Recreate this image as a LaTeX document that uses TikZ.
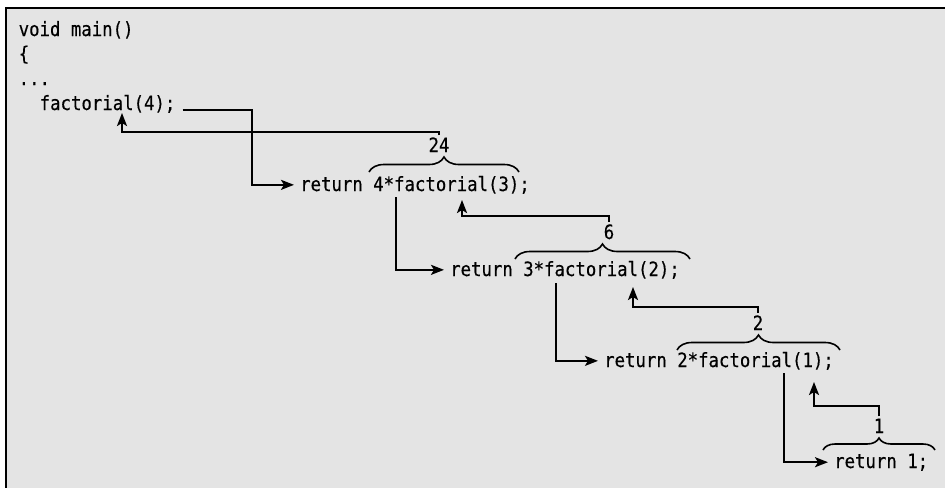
\documentclass[tikz,border=0pt]{standalone}
\usepackage{fontspec}
\usepackage{tikz}
\usetikzlibrary{arrows.meta,decorations.pathreplacing}
\newfontfamily\codefont{DejaVu Sans Mono}[FakeStretch=0.88,FakeBold=0.3]
\definecolor{panel}{HTML}{E4E4E4}

\begin{document}
\begin{tikzpicture}[x=1pt,y=-1pt,
    code/.style={anchor=base west,inner sep=0pt,font=\codefont\fontsize{19.7}{24}\selectfont},
    val/.style={anchor=base,inner sep=0pt,font=\codefont\fontsize{19.7}{24}\selectfont},
    link/.style={line width=2.2pt,-{Stealth[length=13pt,width=10pt,inset=3pt]}},
    brc/.style={decorate,decoration={brace,amplitude=#1},line width=1.6pt}]
        \useasboundingbox (0,0) rectangle (945,488);
        % 背景与边框
        \fill[white] (0,0) rectangle (945,488);
        \fill[panel] (5,7) rectangle (945,488);
        \draw[line width=2pt] (945,7.5) -- (5.5,7.5) -- (5.5,488);
        % main 函数
        \node[code] (main) at (18.5,36) {void main()};
        \node[code] (lb) at (18.5,60.5) {\{};
        \node[code] (dots) at (18.5,85) {...};
        \node[code] (f4) at (39.5,110) {factorial(4);};
        % 递归调用
        \node[code] (r1) at (300,191) {return 4*factorial(3);};
        \node[code] (r2) at (450,276) {return 3*factorial(2);};
        \node[code] (r3) at (604,367) {return 2*factorial(1);};
        \node[code] (r4) at (834,468) {return 1;};
        % 返回值
        \node[val] (v24) at (439,152) {24};
        \node[val] (v6) at (609,239) {6};
        \node[val] (v2) at (758,330) {2};
        \node[val] (v1) at (879,433) {1};
        % 花括号
        \draw[brc=15pt] (369,172) -- (519,172);
        \draw[brc=15pt] (515,259) -- (690,259);
        \draw[brc=15pt] (677,350) -- (840,350);
        \draw[brc=12pt] (823,450) -- (935,450);
        % 调用箭头
        \draw[link] ([xshift=7pt]f4.base east) -| ([xshift=-48pt]r1.west) -- ([xshift=-6pt]r1.west);
        \draw[link] ([shift={(96,6)}]r1.base west) |- ([xshift=-6pt]r2.west);
        \draw[link] ([shift={(106,7)}]r2.base west) |- ([xshift=-6pt]r3.west);
        \draw[link] ([shift={(180,6)}]r3.base west) |- ([xshift=-6pt]r4.west);
        % 返回箭头
        \coordinate (t0) at (122,113); \coordinate (b0) at (122,132);
        \coordinate (t1) at (462,200); \coordinate (b1) at (462,216);
        \coordinate (t2) at (633,287); \coordinate (b2) at (633,307);
        \coordinate (t3) at (814,382); \coordinate (b3) at (814,406);
        \draw[link] ([yshift=2pt]v24.north) |- (b0) -- (t0);
        \draw[link] ([yshift=2pt]v6.north) |- (b1) -- (t1);
        \draw[link] ([yshift=2pt]v2.north) |- (b2) -- (t2);
        \draw[link] ([yshift=2pt]v1.north) |- (b3) -- (t3);
    \end{tikzpicture}
\end{document}
